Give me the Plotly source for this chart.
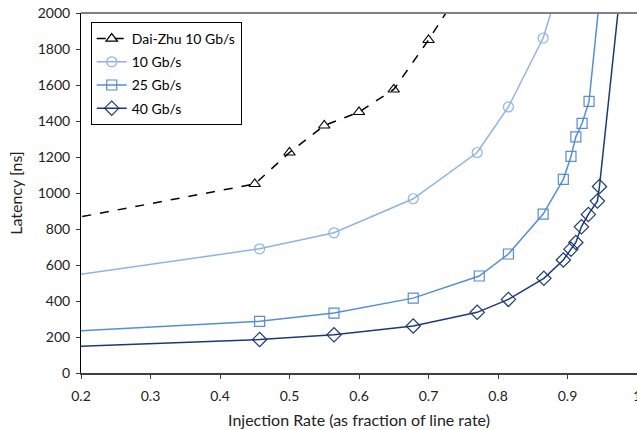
import plotly.graph_objects as go

# Injection rate (fraction of line rate) and latency [ns] for each configuration.
# The first and last samples of each series lie outside the visible window.
daizhu_x = [0.10, 0.45, 0.50, 0.55, 0.60, 0.65, 0.70, 0.75]
daizhu_y = [795, 1050, 1225, 1375, 1450, 1575, 1850, 2150]

g10_x = [0.10, 0.457, 0.564, 0.678, 0.770, 0.815, 0.865, 0.900]
g10_y = [493, 690, 779, 968, 1225, 1478, 1861, 2300]

g25_x = [0.10, 0.457, 0.564, 0.678, 0.773, 0.815, 0.865, 0.894, 0.905, 0.912, 0.921, 0.931, 0.950]
g25_y = [215, 287, 333, 416, 539, 661, 883, 1076, 1203, 1312, 1387, 1509, 2227]

g40_x = [0.10, 0.457, 0.564, 0.678, 0.770, 0.815, 0.866, 0.894, 0.905, 0.912, 0.920, 0.930, 0.943, 0.946, 0.978]
g40_y = [135, 186, 212, 261, 337, 409, 526, 628, 688, 725, 812, 881, 955, 1036, 2200]

x_ticks = [0.2, 0.3, 0.4, 0.5, 0.6, 0.7, 0.8, 0.9, 1.0]
x_tick_text = ["0.2", "0.3", "0.4", "0.5", "0.6", "0.7", "0.8", "0.9", "1"]
y_ticks = [0, 200, 400, 600, 800, 1000, 1200, 1400, 1600, 1800, 2000]

FONT = "Lato"
TEXT = "#222222"

fig = go.Figure()

series = [
    ("Dai-Zhu 10 Gb/s", daizhu_x, daizhu_y, "#000000", "dash", "triangle-up-open", 10),
    ("10 Gb/s", g10_x, g10_y, "#8db4e2", "solid", "circle-open", 10),
    ("25 Gb/s", g25_x, g25_y, "#558ed5", "solid", "square-open", 10),
    ("40 Gb/s", g40_x, g40_y, "#1b3a73", "solid", "diamond-open", 11),
]

for i, (name, xs, ys, color, dash, symbol, size) in enumerate(series):
    fig.add_trace(go.Scatter(
        x=xs, y=ys, name=name, mode="lines+markers",
        legendgroup=f"g{i}",
        line=dict(color=color, width=1.5, dash=dash),
        marker=dict(symbol=symbol, size=size, color=color, line=dict(width=1.2, color=color)),
    ))

# Light frame line along the top of the plot area
fig.add_shape(type="line", xref="paper", yref="paper", x0=0, x1=1, y0=1, y1=1,
              line=dict(color="#808080", width=2))

fig.update_layout(
    width=637, height=430,
    margin=dict(l=81, r=0, t=13, b=57),
    paper_bgcolor="white", plot_bgcolor="white",
    font=dict(family=FONT, size=14, color=TEXT),
    showlegend=True,
    legend=dict(
        x=0.0175, y=0.975, xanchor="left", yanchor="top",
        bgcolor="white", bordercolor="#000000", borderwidth=1,
        font=dict(family=FONT, size=14, color="#000000"),
        tracegroupgap=2, itemwidth=30,
    ),
    xaxis=dict(
        range=[0.2, 1.0], tickmode="array", tickvals=x_ticks, ticktext=x_tick_text,
        showgrid=False, zeroline=False, showline=True, linecolor="#404040", linewidth=2,
        ticks="outside", ticklen=4, tickcolor="#404040", tickwidth=1,
        ticklabelstandoff=5, ticklabeloverflow="allow",
        tickfont=dict(family=FONT, size=14, color=TEXT),
        title=dict(text="Injection Rate (as fraction of line rate)", standoff=12,
                   font=dict(family=FONT, size=16, color=TEXT)),
        automargin=False,
    ),
    yaxis=dict(
        range=[0, 2000], tickmode="array", tickvals=y_ticks,
        showgrid=False, zeroline=False, showline=True, linecolor="#000000", linewidth=1,
        ticks="outside", ticklen=4, tickcolor="#404040", tickwidth=1,
        ticklabelstandoff=3,
        tickfont=dict(family=FONT, size=14, color=TEXT),
        title=dict(text="Latency [ns]", standoff=11,
                   font=dict(family=FONT, size=16, color=TEXT)),
        automargin=False,
    ),
)

fig.write_html("out.html")
